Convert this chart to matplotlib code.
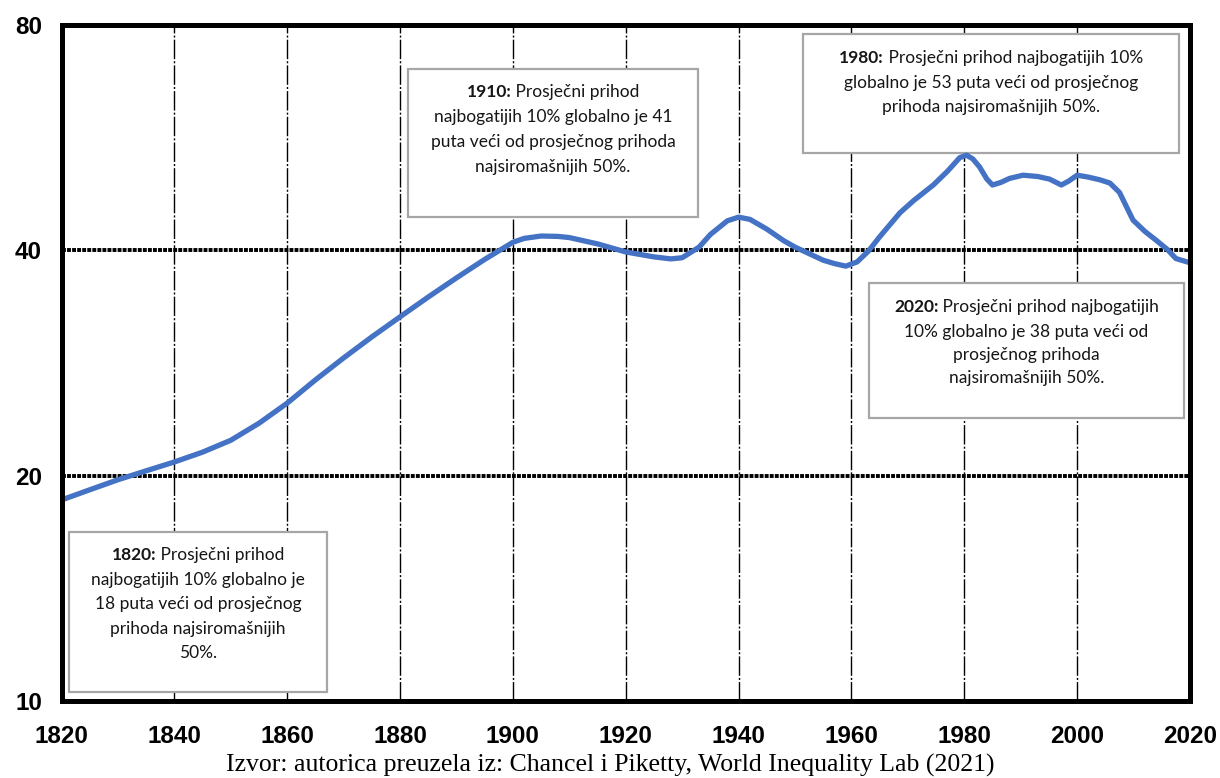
import matplotlib
matplotlib.use("Agg")
import matplotlib.pyplot as plt
from matplotlib.patches import Rectangle
from matplotlib.ticker import FixedLocator, NullLocator

# ---- data ----
years = [1820, 1825, 1830, 1835, 1840, 1845, 1850, 1855, 1860, 1865, 1870, 1875,
         1880, 1885, 1890, 1895, 1900, 1902, 1905, 1908, 1910, 1915, 1920, 1925,
         1928, 1930, 1933, 1935, 1938, 1940, 1942, 1945, 1948, 1950, 1955, 1957,
         1959, 1961, 1963, 1965, 1968.6, 1971, 1974.5, 1977, 1979.2, 1980.4,
         1981.5, 1982.7, 1984, 1985, 1986.5, 1988, 1990.4, 1993, 1995.1, 1997.2,
         1998.5, 2000, 2002, 2004, 2005.8, 2007.5, 2009.9, 2012, 2014.1, 2016,
         2017.5, 2020]
ratio = [18.56, 19.15, 19.75, 20.3, 20.86, 21.5, 22.3, 23.5, 25.0, 26.85, 28.73, 30.65,
         32.6, 34.65, 36.75, 38.9, 41.0, 41.5, 41.8, 41.75, 41.6, 40.8, 39.8, 39.2,
         38.96, 39.1, 40.4, 42.0, 43.8, 44.3, 44.0, 42.7, 41.2, 40.4, 38.8, 38.4,
         38.1, 38.6, 39.9, 41.7, 44.9, 46.6, 48.9, 51.0, 53.2, 53.6,
         53.0, 51.7, 49.8, 48.9, 49.3, 49.9, 50.4, 50.2, 49.8, 48.9,
         49.5, 50.4, 50.1, 49.7, 49.2, 47.8, 43.9, 42.4, 41.2, 40.1,
         39.0, 38.5]

x_ticks = [1820, 1840, 1860, 1880, 1900, 1920, 1940, 1960, 1980, 2000, 2020]
x_tick_labels = [str(v) for v in x_ticks]
y_ticks = [10, 20, 40, 80]
y_tick_labels = ["10", "20", "40", "80"]
h_grid = [20, 40]

source = "Izvor: autorica preuzela iz: Chancel i Piketty, World Inequality Lab (2021)"

notes = [
    # (bold prefix, rest of first line, other lines, box px (x0,y0,x1,y1), centre x, line ys)
    ("1820:", "Prosječni prihod",
     ["najbogatijih 10% globalno je", "18 puta veći od prosječnog",
      "prihoda najsiromašnijih", "50%."],
     (69, 532, 327, 692), 198, [555, 580, 604, 629, 653]),
    ("1910:", "Prosječni prihod",
     ["najbogatijih 10% globalno je 41", "puta veći od prosječnog prihoda",
      "najsiromašnijih 50%."],
     (408, 69, 698, 217), 553, [92, 117, 142, 167]),
    ("1980:", "Prosječni prihod najbogatijih 10%",
     ["globalno je 53 puta veći od prosječnog", "prihoda najsiromašnijih 50%."],
     (803, 34, 1179, 153), 991, [58, 83, 107]),
    ("2020:", "Prosječni prihod najbogatijih",
     ["10% globalno je 38 puta veći od", "prosječnog prihoda",
      "najsiromašnijih 50%."],
     (869, 283, 1184, 418), 1026.5, [307, 332, 355, 378]),
]

W, H = 1220, 778
fig = plt.figure(figsize=(W / 100, H / 100), dpi=100)
fig.patch.set_facecolor("white")

L, R, T, B = 61.5, 1190, 25, 701
ax = fig.add_axes([L / W, 1 - B / H, (R - L) / W, (B - T) / H])
ax.set_yscale("log")
ax.set_xlim(1820, 2020)
ax.set_ylim(10, 80)

# grid
for xv in x_ticks[1:-1]:
    ax.axvline(xv, color="black", lw=1.0, ls=(0, (14, 1.5, 1.5, 1.5)), zorder=1)
for yv in h_grid:
    ax.axhline(yv, color="black", lw=2.8, ls=(0, (1.0, 0.3)), zorder=1)

ax.plot(years, ratio, color="#4472C4", lw=3.8, solid_joinstyle="round",
        solid_capstyle="round", zorder=5)

ax.xaxis.set_major_locator(FixedLocator(x_ticks))
ax.set_xticklabels(x_tick_labels)
ax.yaxis.set_major_locator(FixedLocator(y_ticks))
ax.yaxis.set_minor_locator(NullLocator())
ax.set_yticklabels(y_tick_labels)
ax.tick_params(axis="both", which="both", length=0)
ax.tick_params(axis="x", pad=17)
ax.tick_params(axis="y", pad=14)
for lab in ax.get_xticklabels() + ax.get_yticklabels():
    lab.set_fontfamily("Liberation Sans")
    lab.set_fontweight("bold")
    lab.set_fontsize(17.5)
for sp in ax.spines.values():
    sp.set_linewidth(3.6)
    sp.set_color("black")
    sp.set_zorder(6)

def fx(px):
    return px / W

def fy(py):
    return 1 - py / H

renderer = fig.canvas.get_renderer()
FONT = "Lato"
FS = 12.5
TXT = "#161616"
for bold, rest, others, (x0, y0, x1, y1), cx, ys in notes:
    rect = Rectangle((fx(x0), fy(y1)), fx(x1) - fx(x0), fy(y0) - fy(y1),
                     transform=fig.transFigure, facecolor="white",
                     edgecolor="#a6a6a6", lw=1.6, zorder=4)
    ax.add_patch(rect)
    t1 = ax.text(0, fy(ys[0]), bold, transform=fig.transFigure, fontfamily=FONT,
                 fontweight="bold", fontsize=FS, color=TXT, va="center",
                 ha="left", zorder=7)
    t2 = ax.text(0, fy(ys[0]), " " + rest, transform=fig.transFigure, fontfamily=FONT,
                 fontsize=FS, color=TXT, va="center", ha="left", zorder=7)
    w1 = t1.get_window_extent(renderer).width
    w2 = t2.get_window_extent(renderer).width
    start = cx - (w1 + w2) / 2
    t1.set_x(fx(start))
    t2.set_x(fx(start + w1))
    for line, yy in zip(others, ys[1:]):
        ax.text(fx(cx), fy(yy), line, transform=fig.transFigure, fontfamily=FONT,
                fontsize=FS, color=TXT, va="center", ha="center", zorder=7)

fig.text(fx(610), fy(765), source, fontfamily="Liberation Serif", fontsize=18.5,
         ha="center", va="center", color="black")

fig.savefig("out.png", dpi=100)
